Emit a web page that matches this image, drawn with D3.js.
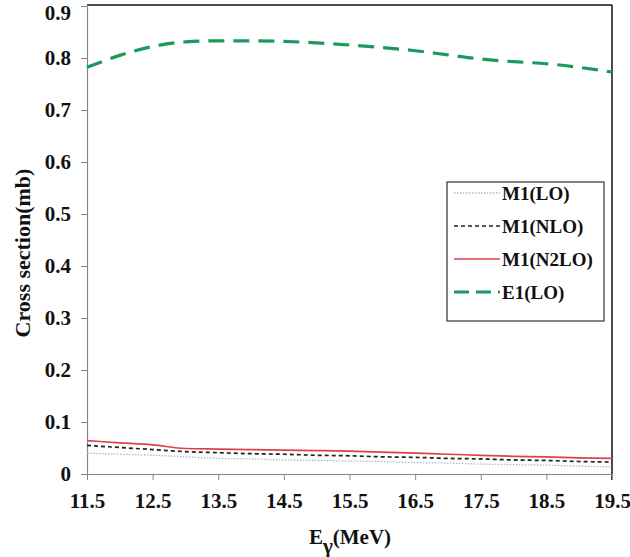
<!DOCTYPE html>
<html>
<head>
<meta charset="utf-8">
<script src="https://cdn.jsdelivr.net/npm/d3@7/dist/d3.min.js"></script>
<style>
  html, body { margin: 0; padding: 0; background: #fff; }
  svg { display: block; }
  text { font-family: "Liberation Serif", "Times New Roman", serif; font-weight: bold; fill: #111; }
</style>
</head>
<body>
<svg id="chart" width="630" height="557"></svg>
<script>
const energies = [11.5, 12.0, 12.5, 13.0, 13.5, 14.0, 14.5, 15.0, 15.5, 16.0, 16.5, 17.0, 17.5, 18.0, 18.5, 19.0, 19.5];
const m1LO   = [0.040, 0.038, 0.036, 0.033, 0.030, 0.029, 0.027, 0.026, 0.025, 0.024, 0.022, 0.021, 0.019, 0.018, 0.017, 0.015, 0.014];
const m1NLO  = [0.055, 0.051, 0.047, 0.043, 0.041, 0.039, 0.038, 0.036, 0.035, 0.033, 0.032, 0.030, 0.029, 0.027, 0.026, 0.024, 0.023];
const m1N2LO = [0.064, 0.060, 0.056, 0.049, 0.048, 0.047, 0.046, 0.045, 0.044, 0.042, 0.040, 0.038, 0.036, 0.034, 0.033, 0.031, 0.030];
const e1LO   = [0.782, 0.805, 0.822, 0.831, 0.833, 0.833, 0.832, 0.829, 0.825, 0.820, 0.814, 0.806, 0.798, 0.793, 0.789, 0.782, 0.773];
const xTicks = [11.5, 12.5, 13.5, 14.5, 15.5, 16.5, 17.5, 18.5, 19.5];
const yTicks = [0, 0.1, 0.2, 0.3, 0.4, 0.5, 0.6, 0.7, 0.8, 0.9];
const seriesNames = ["M1(LO)", "M1(NLO)", "M1(N2LO)", "E1(LO)"];

const series = [
  { name: seriesNames[0], values: m1LO,   color: "#aeb6c8", width: 1.3, dash: "1.5,1.5" },
  { name: seriesNames[1], values: m1NLO,  color: "#222",    width: 1.7, dash: "4,3" },
  { name: seriesNames[2], values: m1N2LO, color: "#e0404e", width: 1.7, dash: null },
  { name: seriesNames[3], values: e1LO,   color: "#1a9a5c", width: 3.2, dash: "16,9" }
];

const svg = d3.select("#chart");
const pLeft = 87, pRight = 612, pTop = 6, pBottom = 474;

const x = d3.scaleLinear().domain([11.5, 19.5]).range([pLeft, pRight]);
const y = d3.scaleLinear().domain([0, 0.9]).range([pBottom, pTop]);

// frame top & right
svg.append("line").attr("x1", pLeft).attr("x2", pRight).attr("y1", pTop - 1).attr("y2", pTop - 1)
  .attr("stroke", "#111").attr("stroke-width", 1.5);
svg.append("line").attr("x1", pRight).attr("x2", pRight).attr("y1", pTop - 1).attr("y2", pBottom + 6)
  .attr("stroke", "#111").attr("stroke-width", 1.5);

// y axis
const yAxis = svg.append("g").attr("transform", `translate(${pLeft},0)`)
  .call(d3.axisLeft(y).tickValues(yTicks).tickFormat(d => d === 0 ? "0" : d3.format(".1f")(d)).tickSize(6).tickSizeOuter(0));
yAxis.select(".domain").attr("stroke", "#888").attr("stroke-width", 1.2);
yAxis.selectAll(".tick line").attr("stroke", "#888");
yAxis.selectAll(".tick text").attr("font-size", 21).attr("x", -16)
  .attr("dy", d => d === 0.9 ? "0.65em" : "0.32em")
  .style("font-family", '"Liberation Serif", serif').style("font-weight", "bold").attr("fill", "#111");

// x axis
const xAxis = svg.append("g").attr("transform", `translate(0,${pBottom})`)
  .call(d3.axisBottom(x).tickValues(xTicks).tickFormat(d3.format(".1f")).tickSize(6).tickSizeOuter(0));
xAxis.select(".domain").attr("stroke", "#888").attr("stroke-width", 1.2);
xAxis.selectAll(".tick line").attr("stroke", "#888");
xAxis.selectAll(".tick text").attr("font-size", 21).attr("y", 19)
  .style("font-family", '"Liberation Serif", serif').style("font-weight", "bold").attr("fill", "#111");

// lines
const line = d3.line().x((d, i) => x(energies[i])).y(d => y(d)).curve(d3.curveMonotoneX);
series.forEach(s => {
  svg.append("path").datum(s.values).attr("d", line)
    .attr("fill", "none").attr("stroke", s.color).attr("stroke-width", s.width)
    .attr("stroke-dasharray", s.dash);
});

// axis titles
svg.append("text").attr("transform", "translate(30,253) rotate(-90)")
  .attr("text-anchor", "middle").attr("font-size", 22).text("Cross section(mb)");
const xt = svg.append("text").attr("x", 350).attr("y", 544).attr("text-anchor", "middle").attr("font-size", 21);
xt.append("tspan").text("E");
xt.append("tspan").attr("dy", 9).text("γ");
xt.append("tspan").attr("dy", -9).text("(MeV)");

// legend
const lg = svg.append("g");
lg.append("rect").attr("x", 447).attr("y", 182).attr("width", 157).attr("height", 139)
  .attr("fill", "#fff").attr("stroke", "#333").attr("stroke-width", 1.2);
series.forEach((s, i) => {
  const cy = 193 + i * 33;
  lg.append("line").attr("x1", 454).attr("x2", 500).attr("y1", cy).attr("y2", cy)
    .attr("stroke", s.color).attr("stroke-width", s.width)
    .attr("stroke-dasharray", i === 3 ? "15,7" : s.dash);
  lg.append("text").attr("x", 502).attr("y", cy + 7).attr("font-size", 19).text(s.name);
});
</script>
</body>
</html>
